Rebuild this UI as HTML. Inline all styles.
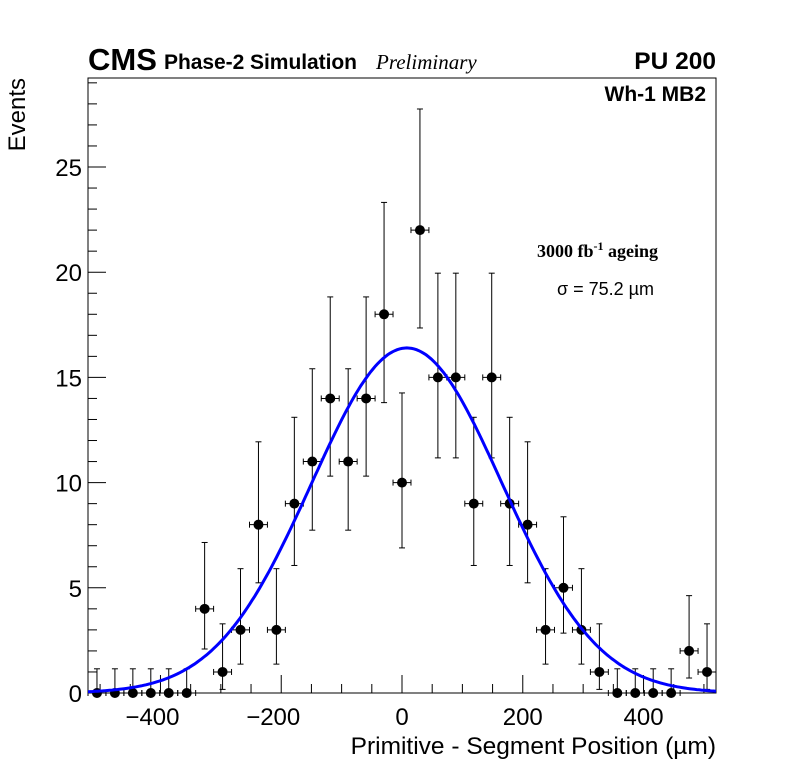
<!DOCTYPE html>
<html><head><meta charset="utf-8"><style>
body{margin:0;background:#fff;}
svg{display:block;font-family:"Liberation Sans",sans-serif;}
</style></head><body>
<svg id="chart" width="796" height="772" viewBox="0 0 796 772" xmlns="http://www.w3.org/2000/svg">
<rect x="0" y="0" width="796" height="772" fill="#fff"/>
<g id="axes"></g>
<g id="marks"></g>
<text x="88" y="70" font-size="31" font-weight="bold">CMS</text>
<text x="164" y="69" font-size="21" font-weight="bold" textLength="193">Phase-2 Simulation</text>
<text x="376" y="69" font-size="21" font-style="italic" font-family="Liberation Serif, serif">Preliminary</text>
<text x="716" y="69" font-size="24.5" font-weight="bold" text-anchor="end">PU 200</text>
<text x="706" y="101" font-size="21" font-weight="bold" text-anchor="end">Wh-1 MB2</text>
<text x="537" y="257" font-size="18" font-weight="bold" font-family="Liberation Serif, serif">3000 fb<tspan dy="-7" font-size="12">-1</tspan><tspan dy="7"> ageing</tspan></text>
<text x="557" y="295" font-size="18">σ = 75.2 µm</text>
<text transform="translate(25,78) rotate(-90)" font-size="24" text-anchor="end">Events</text>
<text x="716" y="754" font-size="24.5" text-anchor="end">Primitive - Segment Position (µm)</text>
</svg>
<script>
const counts = [0,0,0,0,0,0,4,1,3,8,3,9,11,14,11,14,18,10,22,15,15,9,15,9,8,3,5,3,1,0,0,0,0,2,1];
const xTicks = [-400,-200,0,200,400];
const yTicks = [0,5,10,15,20,25];
const fitAmp = 16.4, fitMean = 8, fitSigma = 158;
const xMin = -520, xMax = 520, yMin = 0, yMax = 29.23;

const L=88,R=716,T=78,B=693;
const NS="http://www.w3.org/2000/svg";
const X=v=>L+(v-xMin)/(xMax-xMin)*(R-L);
const Y=v=>B-(v-yMin)/(yMax-yMin)*(B-T);
function mk(tag,attrs,parent){const e=document.createElementNS(NS,tag);for(const k in attrs)e.setAttribute(k,attrs[k]);parent.appendChild(e);return e;}
const axes=document.getElementById('axes'), marks=document.getElementById('marks');
const fr=mk('rect',{x:L,y:T,width:R-L,height:B-T,fill:'none',stroke:'#000','stroke-width':1},axes);


for(let v=-500;v<=500;v+=50){
  const major=(v%200===0);
  const len=major?18:9;
  const t=mk('line',{x1:X(v),x2:X(v),y1:B,y2:B-len,stroke:'#000'},axes);
  
  
}
xTicks.forEach(v=>{
  const t=mk('text',{x:X(v)-(v<0?8:0),y:B+32,'font-size':24,'text-anchor':'middle'},axes);
  t.textContent=(v<0?'\u2212'+(-v):String(v));
  
  
});
for(let v=0;v<=29;v+=1){
  const major=(v%5===0);
  const len=major?18:9;
  const t=mk('line',{x1:L,x2:L+len,y1:Y(v),y2:Y(v),stroke:'#000'},axes);
  
  
}
yTicks.forEach(v=>{
  const t=mk('text',{x:L-6,y:Y(v)+9,'font-size':24,'text-anchor':'end'},axes);
  t.textContent=String(v);
  
  
});
function up(n){if(n===0)return 1.15;const m=n+1;return m*Math.pow(1-1/(9*m)+1/(3*Math.sqrt(m)),3);}
function lo(n){if(n===0)return 0;return n*Math.pow(1-1/(9*n)-1/(3*Math.sqrt(n)),3);}
const bw=(xMax-xMin)/counts.length;
counts.forEach((n,i)=>{
  const c=xMin+bw*(i+0.5), x=X(c), y=Y(n);
  const g=mk('g',{},marks);
  
  
  mk('line',{x1:x,x2:x,y1:Y(up(n)),y2:Y(lo(n)),stroke:'#000'},g);
  mk('line',{x1:X(c-bw/2),x2:X(c+bw/2),y1:y,y2:y,stroke:'#000'},g);
  [c-bw/2,c+bw/2].forEach(e=>mk('line',{x1:X(e),x2:X(e),y1:y-3,y2:y+3,stroke:'#000'},g));
  mk('line',{x1:x-3,x2:x+3,y1:Y(up(n)),y2:Y(up(n)),stroke:'#000'},g);
  if(n>0)mk('line',{x1:x-3,x2:x+3,y1:Y(lo(n)),y2:Y(lo(n)),stroke:'#000'},g);
  mk('circle',{cx:x,cy:y,r:5,fill:'#000'},g);
});
let d='';
for(let v=xMin;v<=xMax;v+=4){
  const f=fitAmp*Math.exp(-0.5*Math.pow((v-fitMean)/fitSigma,2));
  d+=(d?'L':'M')+X(v).toFixed(1)+','+Y(f).toFixed(1);
}
const p=mk('path',{d:d,fill:'none',stroke:'#0000ff','stroke-width':3},marks);


</script>
</body></html>
